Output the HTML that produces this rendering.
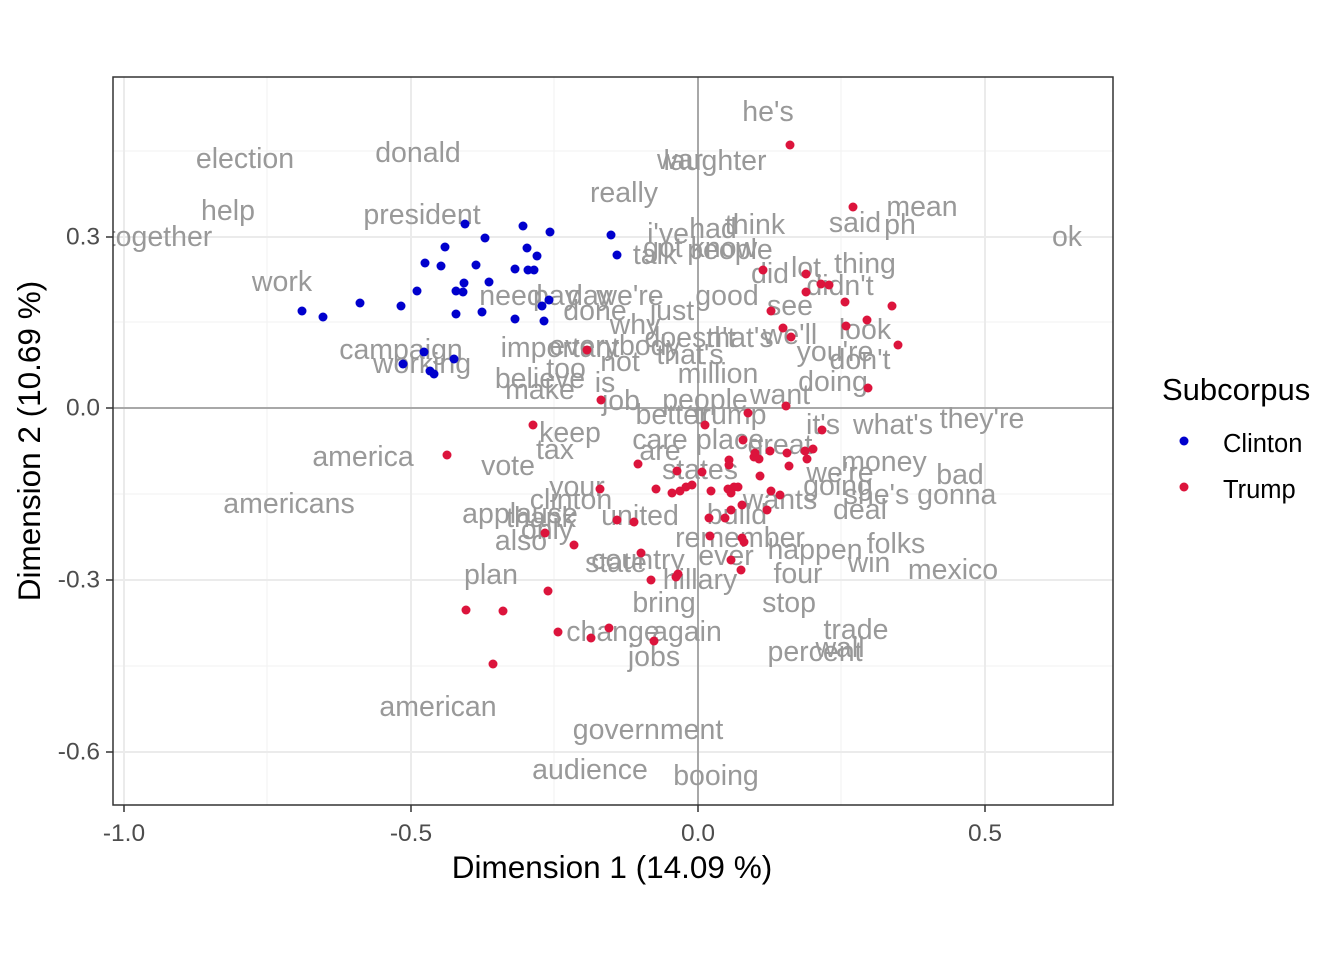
<!DOCTYPE html>
<html><head><meta charset="utf-8"><style>body{margin:0;background:#fff}svg{display:block;font-family:"Liberation Sans",Arial,sans-serif}</style></head>
<body>
<svg width="1344" height="960" viewBox="0 0 1344 960" xmlns="http://www.w3.org/2000/svg">
<rect width="1344" height="960" fill="#fff"/>
<defs><clipPath id="c"><rect x="113" y="77" width="1000" height="728"/></clipPath></defs>
<g stroke="#f2f2f2" stroke-width="1">
<line x1="267" y1="77" x2="267" y2="805"/><line x1="554" y1="77" x2="554" y2="805"/><line x1="841" y1="77" x2="841" y2="805"/>
<line x1="113" y1="151" x2="1113" y2="151"/><line x1="113" y1="322" x2="1113" y2="322"/><line x1="113" y1="494" x2="1113" y2="494"/><line x1="113" y1="666" x2="1113" y2="666"/>
</g>
<g stroke="#ebebeb" stroke-width="2">
<line x1="124" y1="77" x2="124" y2="805"/><line x1="411" y1="77" x2="411" y2="805"/><line x1="985" y1="77" x2="985" y2="805"/>
<line x1="113" y1="237" x2="1113" y2="237"/><line x1="113" y1="580" x2="1113" y2="580"/><line x1="113" y1="752" x2="1113" y2="752"/>
</g>
<g stroke="#a8a8a8" stroke-width="2"><line x1="698" y1="77" x2="698" y2="805"/><line x1="113" y1="408" x2="1113" y2="408"/></g>
<g clip-path="url(#c)" font-size="28.5" fill="#999" text-anchor="middle" dominant-baseline="central">
<text x="245" y="159">election</text><text x="418" y="153">donald</text><text x="228" y="211">help</text><text x="422" y="215">president</text><text x="160" y="237">together</text>
<text x="768" y="112">he's</text><text x="680" y="160">war</text><text x="715" y="161">laughter</text><text x="624" y="193">really</text><text x="922" y="207">mean</text><text x="855" y="223">said</text><text x="900" y="225">ph</text><text x="1067" y="237">ok</text>
<text x="755" y="225">think</text><text x="713" y="229">had</text><text x="668" y="234">i've</text><text x="700" y="248">got know</text><text x="730" y="250">people</text><text x="655" y="255">talk</text><text x="865" y="264">thing</text><text x="770" y="274">did</text><text x="806" y="268">lot</text><text x="840" y="286">didn't</text>
<text x="282" y="282">work</text><text x="511" y="296">need</text><text x="556" y="296">pay</text><text x="590" y="296">day</text><text x="630" y="296">we're</text><text x="727" y="296">good</text><text x="790" y="306">see</text><text x="595" y="311">done</text><text x="672" y="311">just</text>
<text x="635" y="325">why</text><text x="690" y="338">doesn't</text><text x="740" y="338">that's</text><text x="790" y="335">we'll</text><text x="865" y="330">look</text><text x="401" y="350">campaign</text><text x="560" y="348">important</text><text x="615" y="346">everybody</text><text x="835" y="352">you're</text><text x="860" y="360">don't</text>
<text x="422" y="364">working</text><text x="620" y="362">not</text><text x="690" y="355">that's</text><text x="566" y="369">too</text><text x="718" y="374">million</text><text x="540" y="379">believe</text><text x="605" y="383">is</text><text x="540" y="390">make</text><text x="833" y="382">doing</text>
<text x="621" y="401">job</text><text x="780" y="395">want</text><text x="705" y="400">people</text><text x="672" y="415">better</text><text x="730" y="415">trump</text><text x="823" y="425">it's</text><text x="893" y="425">what's</text><text x="982" y="419">they're</text>
<text x="570" y="433">keep</text><text x="555" y="450">tax</text><text x="660" y="440">care</text><text x="730" y="440">place</text><text x="660" y="451">are</text><text x="780" y="445">great</text><text x="363" y="457">america</text><text x="508" y="466">vote</text><text x="884" y="462">money</text><text x="960" y="475">bad</text><text x="840" y="473">we're</text><text x="700" y="470">states</text>
<text x="577" y="487">your</text><text x="838" y="486">going</text><text x="920" y="495">she's gonna</text><text x="571" y="500">clinton</text><text x="780" y="500">wants</text><text x="860" y="510">deal</text><text x="520" y="514">applause</text><text x="640" y="516">united</text><text x="737" y="515">build</text><text x="541" y="518">thank</text>
<text x="521" y="541">also</text><text x="740" y="538">remember</text><text x="547" y="530">only</text><text x="896" y="544">folks</text><text x="815" y="550">happen</text><text x="616" y="563">state</text><text x="638" y="560">country</text><text x="726" y="556">ever</text><text x="869" y="563">win</text><text x="953" y="570">mexico</text>
<text x="491" y="575">plan</text><text x="798" y="574">four</text><text x="700" y="580">hillary</text><text x="664" y="603">bring</text><text x="789" y="603">stop</text><text x="289" y="504">americans</text>
<text x="613" y="632">change</text><text x="687" y="632">again</text><text x="856" y="630">trade</text><text x="815" y="652">percent</text><text x="840" y="648">wall</text><text x="654" y="657">jobs</text>
<text x="438" y="707">american</text><text x="648" y="730">government</text><text x="590" y="770">audience</text><text x="716" y="776">booing</text>
</g>
<g fill="#0000cd">
<circle cx="465" cy="224" r="4.5"/><circle cx="523" cy="226" r="4.5"/><circle cx="550" cy="232" r="4.5"/><circle cx="611" cy="235" r="4.5"/><circle cx="445" cy="247" r="4.5"/><circle cx="485" cy="238" r="4.5"/><circle cx="527" cy="248" r="4.5"/><circle cx="617" cy="255" r="4.5"/><circle cx="537" cy="256" r="4.5"/><circle cx="425" cy="263" r="4.5"/><circle cx="441" cy="266" r="4.5"/><circle cx="476" cy="265" r="4.5"/><circle cx="515" cy="269" r="4.5"/><circle cx="528" cy="270" r="4.5"/><circle cx="534" cy="270" r="4.5"/><circle cx="464" cy="283" r="4.5"/><circle cx="489" cy="282" r="4.5"/><circle cx="417" cy="291" r="4.5"/><circle cx="456" cy="291" r="4.5"/><circle cx="463" cy="292" r="4.5"/><circle cx="549" cy="300" r="4.5"/><circle cx="542" cy="306" r="4.5"/><circle cx="360" cy="303" r="4.5"/><circle cx="401" cy="306" r="4.5"/><circle cx="302" cy="311" r="4.5"/><circle cx="323" cy="317" r="4.5"/><circle cx="456" cy="314" r="4.5"/><circle cx="482" cy="312" r="4.5"/><circle cx="515" cy="319" r="4.5"/><circle cx="544" cy="321" r="4.5"/><circle cx="424" cy="352" r="4.5"/><circle cx="454" cy="359" r="4.5"/><circle cx="403" cy="364" r="4.5"/><circle cx="430" cy="371" r="4.5"/><circle cx="434" cy="374" r="4.5"/>
</g>
<g fill="#dc143c">
<circle cx="790" cy="145" r="4.5"/><circle cx="853" cy="207" r="4.5"/><circle cx="763" cy="270" r="4.5"/><circle cx="806" cy="274" r="4.5"/><circle cx="821" cy="284" r="4.5"/><circle cx="829" cy="285" r="4.5"/><circle cx="806" cy="292" r="4.5"/><circle cx="845" cy="302" r="4.5"/><circle cx="892" cy="306" r="4.5"/><circle cx="867" cy="320" r="4.5"/><circle cx="771" cy="311" r="4.5"/><circle cx="783" cy="328" r="4.5"/><circle cx="846" cy="326" r="4.5"/><circle cx="791" cy="337" r="4.5"/><circle cx="898" cy="345" r="4.5"/><circle cx="587" cy="350" r="4.5"/><circle cx="868" cy="388" r="4.5"/><circle cx="601" cy="400" r="4.5"/><circle cx="786" cy="406" r="4.5"/><circle cx="533" cy="425" r="4.5"/><circle cx="748" cy="413" r="4.5"/><circle cx="705" cy="425" r="4.5"/><circle cx="822" cy="430" r="4.5"/><circle cx="743" cy="440" r="4.5"/><circle cx="755" cy="453" r="4.5"/><circle cx="770" cy="451" r="4.5"/><circle cx="787" cy="453" r="4.5"/><circle cx="805" cy="451" r="4.5"/><circle cx="813" cy="449" r="4.5"/><circle cx="447" cy="455" r="4.5"/><circle cx="807" cy="459" r="4.5"/><circle cx="729" cy="460" r="4.5"/><circle cx="754" cy="457" r="4.5"/><circle cx="759" cy="459" r="4.5"/><circle cx="789" cy="466" r="4.5"/><circle cx="677" cy="471" r="4.5"/><circle cx="702" cy="472" r="4.5"/><circle cx="729" cy="465" r="4.5"/><circle cx="638" cy="464" r="4.5"/><circle cx="760" cy="476" r="4.5"/><circle cx="686" cy="487" r="4.5"/><circle cx="692" cy="485" r="4.5"/><circle cx="656" cy="489" r="4.5"/><circle cx="672" cy="493" r="4.5"/><circle cx="680" cy="491" r="4.5"/><circle cx="711" cy="491" r="4.5"/><circle cx="728" cy="489" r="4.5"/><circle cx="734" cy="487" r="4.5"/><circle cx="731" cy="493" r="4.5"/><circle cx="738" cy="487" r="4.5"/><circle cx="771" cy="491" r="4.5"/><circle cx="780" cy="495" r="4.5"/><circle cx="600" cy="489" r="4.5"/><circle cx="767" cy="510" r="4.5"/><circle cx="731" cy="510" r="4.5"/><circle cx="742" cy="505" r="4.5"/><circle cx="617" cy="520" r="4.5"/><circle cx="634" cy="522" r="4.5"/><circle cx="709" cy="518" r="4.5"/><circle cx="725" cy="518" r="4.5"/><circle cx="545" cy="533" r="4.5"/><circle cx="574" cy="545" r="4.5"/><circle cx="710" cy="536" r="4.5"/><circle cx="742" cy="538" r="4.5"/><circle cx="744" cy="542" r="4.5"/><circle cx="641" cy="553" r="4.5"/><circle cx="731" cy="560" r="4.5"/><circle cx="676" cy="577" r="4.5"/><circle cx="741" cy="570" r="4.5"/><circle cx="651" cy="580" r="4.5"/><circle cx="678" cy="574" r="4.5"/><circle cx="548" cy="591" r="4.5"/><circle cx="466" cy="610" r="4.5"/><circle cx="503" cy="611" r="4.5"/><circle cx="609" cy="628" r="4.5"/><circle cx="558" cy="632" r="4.5"/><circle cx="591" cy="638" r="4.5"/><circle cx="654" cy="641" r="4.5"/><circle cx="493" cy="664" r="4.5"/>
</g>
<rect x="113" y="77" width="1000" height="728" fill="none" stroke="#333" stroke-width="1.5"/>
<g stroke="#333" stroke-width="1.5">
<line x1="124" y1="805" x2="124" y2="812"/><line x1="411" y1="805" x2="411" y2="812"/><line x1="698" y1="805" x2="698" y2="812"/><line x1="985" y1="805" x2="985" y2="812"/>
<line x1="106" y1="237" x2="113" y2="237"/><line x1="106" y1="408" x2="113" y2="408"/><line x1="106" y1="580" x2="113" y2="580"/><line x1="106" y1="752" x2="113" y2="752"/>
</g>
<g font-size="24.5" fill="#4d4d4d">
<g text-anchor="middle"><text x="124" y="841">-1.0</text><text x="411" y="841">-0.5</text><text x="698" y="841">0.0</text><text x="985" y="841">0.5</text></g>
<g text-anchor="end" dominant-baseline="central"><text x="100" y="237">0.3</text><text x="100" y="408">0.0</text><text x="100" y="580">-0.3</text><text x="100" y="752">-0.6</text></g>
</g>
<text x="612" y="878" font-size="31.5" text-anchor="middle" fill="#000">Dimension 1 (14.09 %)</text>
<text transform="translate(40,441) rotate(-90)" font-size="31.5" text-anchor="middle" fill="#000">Dimension 2 (10.69 %)</text>
<text x="1162" y="400" font-size="31" fill="#000">Subcorpus</text>
<circle cx="1184" cy="441" r="4.5" fill="#0000cd"/><text x="1223" y="452" font-size="25.5" fill="#000">Clinton</text>
<circle cx="1184" cy="487" r="4.5" fill="#dc143c"/><text x="1223" y="498" font-size="25.5" fill="#000">Trump</text>
</svg>
</body></html>
